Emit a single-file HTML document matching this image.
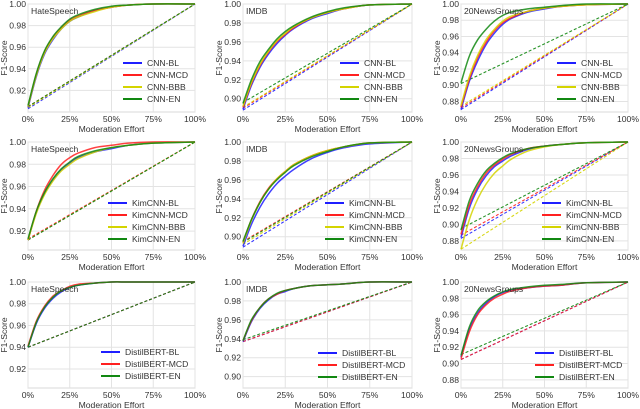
<!DOCTYPE html>
<html><head><meta charset="utf-8">
<style>
html,body{margin:0;padding:0;background:#fff;}
svg{display:block;font-family:"Liberation Sans",sans-serif;}
</style></head>
<body>
<svg id="fig" width="640" height="409" viewBox="0 0 640 409"></svg>
<script>
// ---- data ----
const effortX = [0,5,10,15,20,25,30,40,50,60,75,100];
const xTicks = [0,25,50,75,100];
const xTickLabels = ['0%','25%','50%','75%','100%'];
const seriesColors = {BL:'#1f1fff', MCD:'#ff2020', BBB:'#d4d400', EN:'#118811'};

// Row 1: CNN
const hsCnnCurves = {
  BL:[0.904,0.933,0.954,0.967,0.977,0.984,0.988,0.994,0.997,0.999,1.0,1.0],
  MCD:[0.905,0.935,0.956,0.969,0.978,0.985,0.989,0.994,0.997,0.999,1.0,1.0],
  BBB:[0.905,0.934,0.955,0.968,0.977,0.984,0.988,0.993,0.997,0.999,1.0,1.0],
  EN:[0.906,0.936,0.957,0.970,0.979,0.986,0.990,0.995,0.998,0.999,1.0,1.0]};
const hsCnnBase = {BL:0.903,MCD:0.905,BBB:0.904,EN:0.905};
const imdbCnnCurves = {
  BL:[0.889,0.914,0.933,0.947,0.958,0.967,0.974,0.984,0.990,0.995,0.999,1.0],
  MCD:[0.891,0.916,0.935,0.949,0.960,0.968,0.975,0.985,0.991,0.995,0.999,1.0],
  BBB:[0.892,0.917,0.936,0.950,0.961,0.969,0.976,0.985,0.991,0.995,0.999,1.0],
  EN:[0.895,0.920,0.939,0.952,0.963,0.971,0.977,0.986,0.992,0.996,0.999,1.0]};
const imdbCnnBase = {BL:0.888,MCD:0.890,BBB:0.891,EN:0.896};
const ngCnnCurves = {
  BL:[0.870,0.905,0.930,0.950,0.964,0.975,0.982,0.990,0.994,0.997,0.999,1.0],
  MCD:[0.873,0.908,0.934,0.953,0.967,0.977,0.983,0.991,0.995,0.997,0.999,1.0],
  BBB:[0.875,0.911,0.937,0.956,0.969,0.979,0.985,0.991,0.995,0.997,0.999,1.0],
  EN:[0.903,0.936,0.956,0.969,0.979,0.986,0.990,0.994,0.996,0.998,1.0,1.0]};
const ngCnnBase = {BL:0.870,MCD:0.872,BBB:0.874,EN:0.902};

// Row 2: KimCNN
const hsKimCurves = {
  BL:[0.912,0.937,0.954,0.966,0.975,0.981,0.986,0.991,0.994,0.997,0.999,1.0],
  MCD:[0.912,0.938,0.957,0.970,0.980,0.986,0.990,0.995,0.997,0.999,1.0,1.0],
  BBB:[0.912,0.936,0.953,0.965,0.974,0.980,0.985,0.991,0.995,0.997,0.999,1.0],
  EN:[0.913,0.938,0.955,0.967,0.976,0.982,0.987,0.992,0.995,0.997,0.999,1.0]};
const hsKimBase = {BL:0.912,MCD:0.913,BBB:0.912,EN:0.912};
const imdbKimCurves = {
  BL:[0.890,0.913,0.931,0.945,0.956,0.964,0.971,0.982,0.989,0.994,0.998,1.0],
  MCD:[0.894,0.918,0.937,0.951,0.961,0.969,0.976,0.985,0.991,0.995,0.999,1.0],
  BBB:[0.893,0.917,0.936,0.950,0.961,0.969,0.976,0.985,0.991,0.995,0.999,1.0],
  EN:[0.895,0.918,0.936,0.950,0.960,0.968,0.975,0.984,0.990,0.995,0.999,1.0]};
const imdbKimBase = {BL:0.889,MCD:0.895,BBB:0.892,EN:0.894};
const ngKimCurves = {
  BL:[0.884,0.920,0.943,0.959,0.970,0.977,0.983,0.991,0.995,0.997,0.999,1.0],
  MCD:[0.888,0.924,0.946,0.962,0.972,0.979,0.985,0.992,0.995,0.997,0.999,1.0],
  BBB:[0.870,0.906,0.931,0.949,0.962,0.971,0.979,0.989,0.994,0.997,0.999,1.0],
  EN:[0.893,0.929,0.950,0.965,0.974,0.981,0.986,0.992,0.995,0.997,0.999,1.0]};
const ngKimBase = {BL:0.883,MCD:0.887,BBB:0.870,EN:0.895};

// Row 3: DistilBERT
const hsBertCurves = {
  BL:[0.940,0.962,0.976,0.985,0.991,0.995,0.997,0.999,1.0,1.0,1.0,1.0],
  MCD:[0.941,0.964,0.978,0.987,0.992,0.996,0.998,0.999,1.0,1.0,1.0,1.0],
  EN:[0.940,0.963,0.977,0.986,0.992,0.995,0.997,0.999,1.0,1.0,1.0,1.0]};
const hsBertBase = {BL:0.940,MCD:0.940,EN:0.940};
const imdbBertCurves = {
  BL:[0.937,0.958,0.972,0.981,0.987,0.990,0.993,0.996,0.997,0.998,1.0,1.0],
  MCD:[0.938,0.959,0.973,0.982,0.987,0.991,0.993,0.996,0.997,0.998,1.0,1.0],
  EN:[0.938,0.960,0.973,0.982,0.988,0.991,0.993,0.996,0.997,0.998,1.0,1.0]};
const imdbBertBase = {BL:0.937,MCD:0.937,EN:0.939};
const ngBertCurves = {
  BL:[0.908,0.942,0.962,0.974,0.982,0.987,0.990,0.993,0.995,0.996,0.999,1.0],
  MCD:[0.906,0.939,0.960,0.972,0.980,0.985,0.989,0.993,0.995,0.996,0.999,1.0],
  EN:[0.910,0.945,0.965,0.976,0.983,0.988,0.991,0.994,0.996,0.997,0.999,1.0]};
const ngBertBase = {BL:0.905,MCD:0.905,EN:0.911};

const yTicksA = [0.92,0.94,0.96,0.98,1.00];
const yTicksB = [0.90,0.92,0.94,0.96,0.98,1.00];
const yTicksC = [0.88,0.90,0.92,0.94,0.96,0.98,1.00];

// ---- layout ----
const colX = [[28,195],[243,412],[461,628]];
const rowY = [[4,112],[142,250],[282,388]];
const panels = [
 {r:0,c:0,title:'HateSpeech',model:'CNN',curves:hsCnnCurves,base:hsCnnBase,ymin:0.900,ticks:yTicksA,leg:[123,63]},
 {r:0,c:1,title:'IMDB',model:'CNN',curves:imdbCnnCurves,base:imdbCnnBase,ymin:0.886,ticks:yTicksB,leg:[340,63]},
 {r:0,c:2,title:'20NewsGroups',model:'CNN',curves:ngCnnCurves,base:ngCnnBase,ymin:0.867,ticks:yTicksC,leg:[557,63]},
 {r:1,c:0,title:'HateSpeech',model:'KimCNN',curves:hsKimCurves,base:hsKimBase,ymin:0.903,ticks:yTicksA,leg:[108,203]},
 {r:1,c:1,title:'IMDB',model:'KimCNN',curves:imdbKimCurves,base:imdbKimBase,ymin:0.886,ticks:yTicksB,leg:[325,203]},
 {r:1,c:2,title:'20NewsGroups',model:'KimCNN',curves:ngKimCurves,base:ngKimBase,ymin:0.869,ticks:yTicksC,leg:[542,203]},
 {r:2,c:0,title:'HateSpeech',model:'DistilBERT',curves:hsBertCurves,base:hsBertBase,ymin:0.9025,ticks:yTicksA,leg:[101,352]},
 {r:2,c:1,title:'IMDB',model:'DistilBERT',curves:imdbBertCurves,base:imdbBertBase,ymin:0.888,ticks:yTicksB,leg:[318,353]},
 {r:2,c:2,title:'20NewsGroups',model:'DistilBERT',curves:ngBertCurves,base:ngBertBase,ymin:0.870,ticks:yTicksC,leg:[535,353]}
];

const NS='http://www.w3.org/2000/svg';
const svg=document.getElementById('fig');
function mk(tag,attrs,parent){const e=document.createElementNS(NS,tag);for(const k in attrs)e.setAttribute(k,attrs[k]);(parent||svg).appendChild(e);return e;}
function smoothPath(pts){
  let d='M'+pts[0][0].toFixed(1)+','+pts[0][1].toFixed(1);
  for(let i=0;i<pts.length-1;i++){
    const p0=pts[i-1]||pts[i],p1=pts[i],p2=pts[i+1],p3=pts[i+2]||p2;
    const c1=[p1[0]+(p2[0]-p0[0])/6,p1[1]+(p2[1]-p0[1])/6];
    const c2=[p2[0]-(p3[0]-p1[0])/6,p2[1]-(p3[1]-p1[1])/6];
    d+=' C'+c1[0].toFixed(1)+','+c1[1].toFixed(1)+' '+c2[0].toFixed(1)+','+c2[1].toFixed(1)+' '+p2[0].toFixed(1)+','+p2[1].toFixed(1);
  }
  return d;
}
const FS=8.6;

panels.forEach((p,i)=>{
  const [x0,x1]=colX[p.c],[y0,y1]=rowY[p.r];
  const xs=v=>x0+(x1-x0)*v/100;
  const ys=v=>y1-(y1-y0)*(v-p.ymin)/(1-p.ymin);
  const g=mk('g',{});
  
  
  const bg=mk('rect',{x:x0,y:y0,width:x1-x0,height:y1-y0,fill:'#fff',stroke:'#d8d8d8','stroke-width':1},g);
  
  
  xTicks.forEach((t,k)=>{
    const gl=mk('line',{x1:xs(t),x2:xs(t),y1:y0,y2:y1,stroke:'#e3e3e3','stroke-width':1},g);
    
    
    const tl=mk('text',{x:xs(t),y:y1+10,'font-size':FS,fill:'#333','text-anchor':'middle'},g);
    tl.textContent=xTickLabels[k];
    
    
  });
  p.ticks.forEach(t=>{
    const gl=mk('line',{x1:x0,x2:x1,y1:ys(t),y2:ys(t),stroke:'#e3e3e3','stroke-width':1},g);
    
    
    const tl=mk('text',{x:x0-2,y:ys(t)+3,'font-size':FS,fill:'#333','text-anchor':'end'},g);
    tl.textContent=t.toFixed(2);
    
    
  });
  const xt=mk('text',{x:(x0+x1)/2,y:y1+20,'font-size':FS,fill:'#333','text-anchor':'middle'},g);
  xt.textContent='Moderation Effort';
  
  
  const yc=(y0+y1)/2, yx=x0-21;
  const yt=mk('text',{x:yx,y:yc,'font-size':FS,fill:'#333','text-anchor':'middle',transform:`rotate(-90 ${yx} ${yc})`},g);
  yt.textContent='F1-Score';
  
  
  const keys=Object.keys(p.curves);
  keys.forEach(k=>{
    const b=mk('line',{x1:xs(0),y1:ys(p.base[k]),x2:xs(100),y2:ys(1.0),stroke:seriesColors[k],'stroke-width':1.1,'stroke-dasharray':'3,2',opacity:0.9},g);
    
    
  });
  keys.forEach(k=>{
    const pts=p.curves[k].map((v,j)=>[xs(effortX[j]),ys(v)]);
    const c=mk('path',{d:smoothPath(pts),fill:'none',stroke:seriesColors[k],'stroke-width':1.5,'stroke-linejoin':'round',opacity:0.85},g);
    
    
  });
  const tt=mk('text',{x:x0+3,y:y0+10,'font-size':FS,fill:'#333'},g);
  tt.textContent=p.title;
  
  
  keys.forEach((k,j)=>{
    const ly=p.leg[1]+j*12;
    const ll=mk('line',{x1:p.leg[0],x2:p.leg[0]+19,y1:ly,y2:ly,stroke:seriesColors[k],'stroke-width':2},g);
    
    
    const lt=mk('text',{x:p.leg[0]+24,y:ly+3,'font-size':FS,fill:'#333'},g);
    lt.textContent=p.model+'-'+k;
    
    
  });
});
</script>
</body></html>
